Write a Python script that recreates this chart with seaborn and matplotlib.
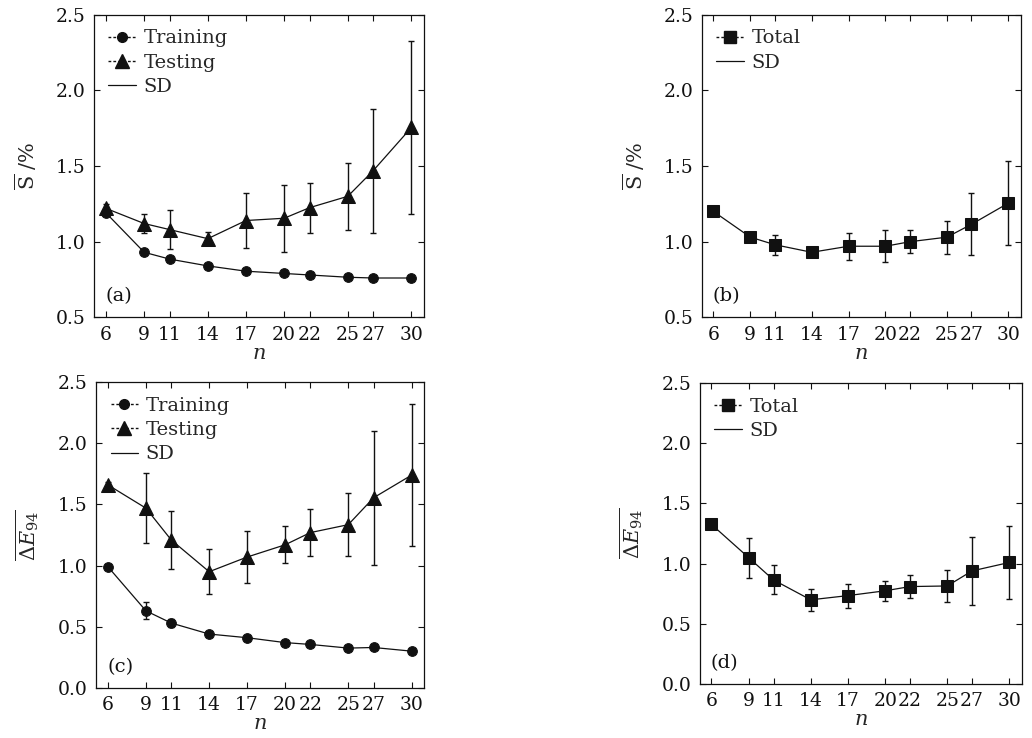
import matplotlib
matplotlib.use('Agg')
import matplotlib.pyplot as plt
import seaborn as sns
import pandas as pd
from matplotlib.lines import Line2D

# ---------------- data ----------------
n_values = [6, 9, 11, 14, 17, 20, 22, 25, 27, 30]

# (a) mean S / %
s_train = [1.19, 0.93, 0.885, 0.84, 0.805, 0.79, 0.78, 0.765, 0.76, 0.76]
s_train_sd = [0.02, 0.015, 0.01, 0.01, 0.01, 0.01, 0.01, 0.01, 0.01, 0.01]
s_test = [1.22, 1.12, 1.08, 1.02, 1.14, 1.155, 1.225, 1.30, 1.47, 1.755]
s_test_sd = [0.03, 0.065, 0.13, 0.045, 0.18, 0.22, 0.165, 0.22, 0.41, 0.57]

# (b) mean S / % total
s_total = [1.20, 1.03, 0.98, 0.93, 0.97, 0.97, 1.00, 1.03, 1.115, 1.255]
s_total_sd = [0.02, 0.03, 0.065, 0.02, 0.09, 0.105, 0.075, 0.11, 0.205, 0.28]

# (c) mean dE94
e_train = [0.99, 0.63, 0.53, 0.44, 0.41, 0.37, 0.355, 0.325, 0.33, 0.30]
e_train_sd = [0.02, 0.07, 0.03, 0.02, 0.015, 0.015, 0.015, 0.015, 0.015, 0.015]
e_test = [1.66, 1.47, 1.21, 0.95, 1.07, 1.17, 1.27, 1.335, 1.555, 1.74]
e_test_sd = [0.02, 0.285, 0.235, 0.185, 0.21, 0.15, 0.19, 0.26, 0.55, 0.58]

# (d) mean dE94 total
e_total = [1.326, 1.05, 0.865, 0.70, 0.735, 0.775, 0.81, 0.815, 0.94, 1.01]
e_total_sd = [0.02, 0.165, 0.12, 0.09, 0.1, 0.085, 0.095, 0.135, 0.28, 0.3]

x_tick_labels = ['6', '9', '11', '14', '17', '20', '22', '25', '27', '30']
y_ticks_top = [0.5, 1.0, 1.5, 2.0, 2.5]
y_ticks_bottom = [0.0, 0.5, 1.0, 1.5, 2.0, 2.5]

# ---------------- style ----------------
sns.set_theme(style='ticks')
plt.rcParams['font.family'] = ['DejaVu Serif']
plt.rcParams['mathtext.fontset'] = 'dejavuserif'
plt.rcParams['axes.linewidth'] = 0.9

INK = '#111111'
fig = plt.figure(figsize=(10.32, 7.38), dpi=100)

ax_a = fig.add_axes([0.091, 0.570, 0.320, 0.410])
ax_b = fig.add_axes([0.680, 0.570, 0.309, 0.410])
ax_c = fig.add_axes([0.093, 0.068, 0.318, 0.414])
ax_d = fig.add_axes([0.678, 0.073, 0.312, 0.408])


def draw(ax, series, ylim, yticks, ylabel, tag):
    handles = []
    for label, vals, sds, mk, ms in series:
        ax.errorbar(n_values, vals, yerr=sds, fmt='none', ecolor=INK,
                    elinewidth=1.0, capsize=2.5, capthick=1.0, zorder=2)
        df = pd.DataFrame({'n': n_values, 'v': vals})
        sns.lineplot(data=df, x='n', y='v', ax=ax, color=INK, lw=0.9,
                     marker=mk, markersize=ms, markeredgecolor=INK,
                     markerfacecolor=INK, zorder=3, legend=False)
        handles.append(Line2D([], [], color=INK, lw=1.0, ls=(0, (2, 1.5)),
                              marker=mk, markersize=ms, label=label))
    handles.append(Line2D([], [], color=INK, lw=0.9, label='SD'))
    ax.legend(handles=handles, loc='upper left', frameon=False,
              fontsize=14, handlelength=1.4, handletextpad=0.4,
              labelspacing=0.32, borderaxespad=0.3, borderpad=0.45)
    ax.set_xlim(5.05, 31.0)
    ax.set_ylim(*ylim)
    ax.set_xticks(n_values)
    ax.set_xticklabels(x_tick_labels)
    ax.set_yticks(yticks)
    ax.set_yticklabels([f'{t:.1f}' for t in yticks])
    ax.tick_params(direction='in', top=True, right=True, length=4,
                   width=0.8, labelsize=13.5, pad=6, colors=INK)
    ax.set_xlabel(r'$n$', fontsize=15, labelpad=0)
    ax.set_ylabel(ylabel, fontsize=15, labelpad=12)
    for sp in ax.spines.values():
        sp.set_color(INK)
    ax.text(0.035, 0.04, tag, transform=ax.transAxes, fontsize=14,
            ha='left', va='bottom', color=INK)


draw(ax_a, [('Training', s_train, s_train_sd, 'o', 7),
            ('Testing', s_test, s_test_sd, '^', 10)],
     (0.5, 2.5), y_ticks_top, r'$\overline{\mathrm{S}}$ /%', '(a)')
draw(ax_b, [('Total', s_total, s_total_sd, 's', 8)],
     (0.5, 2.5), y_ticks_top, r'$\overline{\mathrm{S}}$ /%', '(b)')
draw(ax_c, [('Training', e_train, e_train_sd, 'o', 7),
            ('Testing', e_test, e_test_sd, '^', 10)],
     (0.0, 2.5), y_ticks_bottom, r'$\overline{\Delta E_{94}}$', '(c)')
draw(ax_d, [('Total', e_total, e_total_sd, 's', 8)],
     (0.0, 2.5), y_ticks_bottom, r'$\overline{\Delta E_{94}}$', '(d)')

fig.savefig('out.png', dpi=100, facecolor='white')
